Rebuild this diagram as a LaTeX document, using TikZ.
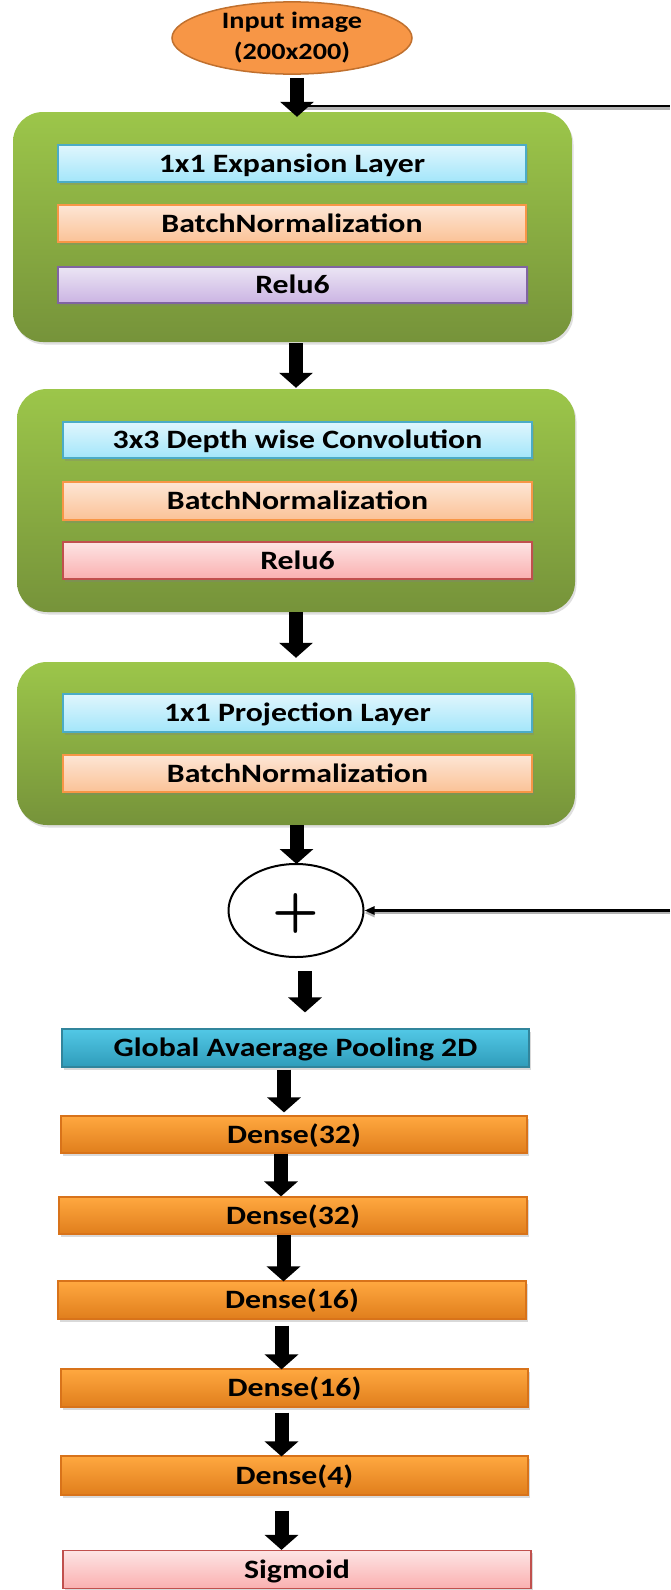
\documentclass[tikz,border=0pt]{standalone}
\usepackage{fontspec}
\setmainfont[FakeStretch=1.2]{Carlito}
\usetikzlibrary{shapes.geometric,arrows.meta,shadows}
\definecolor{grnT}{HTML}{9CC64A}
\definecolor{grnB}{HTML}{76933A}
\definecolor{bluT}{HTML}{E0F6FD}
\definecolor{bluB}{HTML}{A3E6FA}
\definecolor{bluD}{HTML}{4BACC6}
\definecolor{pchT}{HTML}{FDE6D5}
\definecolor{pchB}{HTML}{FBC297}
\definecolor{pchD}{HTML}{F79646}
\definecolor{lavT}{HTML}{EBE5F4}
\definecolor{lavB}{HTML}{CBB4E3}
\definecolor{lavD}{HTML}{8064A2}
\definecolor{pnkT}{HTML}{FDE4E4}
\definecolor{pnkB}{HTML}{FAB0B0}
\definecolor{pnkD}{HTML}{C0504D}
\definecolor{gapT}{HTML}{52C8E6}
\definecolor{gapB}{HTML}{2F9CBA}
\definecolor{gapD}{HTML}{31859C}
\definecolor{denT}{HTML}{FFA840}
\definecolor{denB}{HTML}{E07E1C}
\definecolor{denD}{HTML}{D8731A}
\definecolor{ellF}{HTML}{F79646}
\definecolor{ellD}{HTML}{C0702E}
\tikzset{
  grp/.style={rectangle, rounded corners=30pt, top color=grnT, bottom color=grnB,
    draw=none, inner sep=0pt,
    drop shadow={shadow xshift=1.5pt, shadow yshift=-2.5pt, opacity=0.25}},
  lay/.style={rectangle, inner sep=0pt, line width=1.2pt,
    font=\fontsize{26.5}{30}\selectfont\bfseries, text=black,
    text height=17pt, text depth=0pt,
    drop shadow={shadow xshift=2pt, shadow yshift=-2.5pt, opacity=0.3}},
  lblue/.style={lay, top color=bluT, bottom color=bluB, draw=bluD},
  lpeach/.style={lay, top color=pchT, bottom color=pchB, draw=pchD},
  llav/.style={lay, top color=lavT, bottom color=lavB, draw=lavD},
  lpink/.style={lay, top color=pnkT, bottom color=pnkB, draw=pnkD},
  lgap/.style={lay, top color=gapT, bottom color=gapB, draw=gapD},
  ldense/.style={lay, top color=denT, bottom color=denB, draw=denD},
  fatarrow/.style={draw=black, line width=14pt, -{Triangle[length=15pt,width=33pt]}},
  skipline/.style={draw=black, line width=2.5pt,
    preaction={draw=black!30, line width=2.5pt, transform canvas={yshift=-2.5pt}}},
}
\begin{document}
\begin{tikzpicture}[x=1pt,y=-1pt]
\useasboundingbox (0,0) rectangle (670,1590);

% input
\node[ellipse, inner sep=0pt, minimum width=240pt, minimum height=66pt,
  fill=ellF, draw=ellD, line width=1.5pt, align=center,
  font=\fontsize{23.5}{31}\selectfont\bfseries] (in) at (292,38) {Input image\\(200x200)};

% group 1
\node[grp, minimum width=559pt, minimum height=230pt] (g1) at (292.5,227) {};
\node[lblue, minimum width=468pt, minimum height=37pt] (b1) at (292,163.5) {1x1 Expansion Layer};
\node[lpeach, minimum width=468pt, minimum height=37pt] (n1) at (292,223.5) {BatchNormalization};
\node[llav, minimum width=469pt, minimum height=36pt] (r1) at (292.5,285) {Relu6};

% group 2
\node[grp, minimum width=558pt, minimum height=223pt] (g2) at (296,500.5) {};
\node[lblue, minimum width=469pt, minimum height=36pt] (b2) at (297.5,440) {3x3 Depth wise Convolution};
\node[lpeach, minimum width=469pt, minimum height=38pt] (n2) at (297.5,501) {BatchNormalization};
\node[lpink, minimum width=469pt, minimum height=37pt] (r2) at (297.5,560.5) {Relu6};

% group 3
\node[grp, minimum width=558pt, minimum height=163pt] (g3) at (296,743.5) {};
\node[lblue, minimum width=469pt, minimum height=38pt] (b3) at (297.5,713) {1x1 Projection Layer};
\node[lpeach, minimum width=469pt, minimum height=37pt] (n3) at (297.5,773.5) {BatchNormalization};

% add
\node[ellipse, inner sep=0pt, minimum width=135pt, minimum height=93pt,
  fill=white, draw=black, line width=2pt] (add) at (296,910.5) {};
\node[inner sep=0pt, font=\fontfamily{lmr}\fontsize{60}{60}\selectfont\bfseries] (plus) at (296,913) {+};

% head
\node[lgap, minimum width=467pt, minimum height=38pt] (gap) at (295.5,1048) {Global Avaerage Pooling 2D};
\node[ldense, minimum width=466pt, minimum height=37pt] (d1) at (294,1134.5) {Dense(32)};
\node[ldense, minimum width=468pt, minimum height=37pt] (d2) at (293,1215.5) {Dense(32)};
\node[ldense, minimum width=468pt, minimum height=38pt] (d3) at (292,1300) {Dense(16)};
\node[ldense, minimum width=467pt, minimum height=38pt] (d4) at (294.5,1388) {Dense(16)};
\node[ldense, minimum width=467pt, minimum height=39pt] (d5) at (294.5,1475.5) {Dense(4)};
\node[lpink, minimum width=468pt, minimum height=38pt] (sg) at (297,1569.5) {Sigmoid};

% skip connection (continues beyond the right edge)
\coordinate (tapA) at (305,106);
\coordinate (edgeA) at (670,106);
\coordinate (edgeB) at (670,910.5);
\draw[skipline] (tapA) -- (edgeA);
\draw[skipline, -{Triangle[length=10pt,width=8pt]}] (edgeB) -- (edgeB -| add.east);

% fat arrows
\draw[fatarrow, shorten <=3pt, shorten >=-5pt] ([xshift=5pt]in.south) -- ([xshift=5pt]in.south |- g1.north);
\draw[fatarrow, shorten <=1pt, shorten >=1pt] ([xshift=3.5pt]g1.south) -- ([xshift=3.5pt]g1.south |- g2.north);
\draw[fatarrow, shorten >=4pt] (g2.south) -- (g2.south |- g3.north);
\draw[fatarrow, shorten >=-1pt] ([xshift=0.5pt]g3.south) -- ([xshift=0.5pt]g3.south |- add.north);
\draw[fatarrow, shorten <=13pt, shorten >=16pt] ([xshift=9pt]add.south) -- ([xshift=9pt]add.south |- gap.north);
\draw[fatarrow, shorten <=2pt, shorten >=3pt] ([xshift=-11.5pt]gap.south) -- ([xshift=-11.5pt]gap.south |- d1.north);
\draw[fatarrow] ([xshift=-13pt]d1.south) -- ([xshift=-13pt]d1.south |- d2.north);
\draw[fatarrow, shorten >=-1pt] ([xshift=-9.5pt]d2.south) -- ([xshift=-9.5pt]d2.south |- d3.north);
\draw[fatarrow, shorten <=6pt, shorten >=-1pt] ([xshift=-10.5pt]d3.south) -- ([xshift=-10.5pt]d3.south |- d4.north);
\draw[fatarrow, shorten <=5pt, shorten >=-1pt] ([xshift=-13pt]d4.south) -- ([xshift=-13pt]d4.south |- d5.north);
\draw[fatarrow, shorten <=15pt] ([xshift=-13pt]d5.south) -- ([xshift=-13pt]d5.south |- sg.north);
\end{tikzpicture}
\end{document}
